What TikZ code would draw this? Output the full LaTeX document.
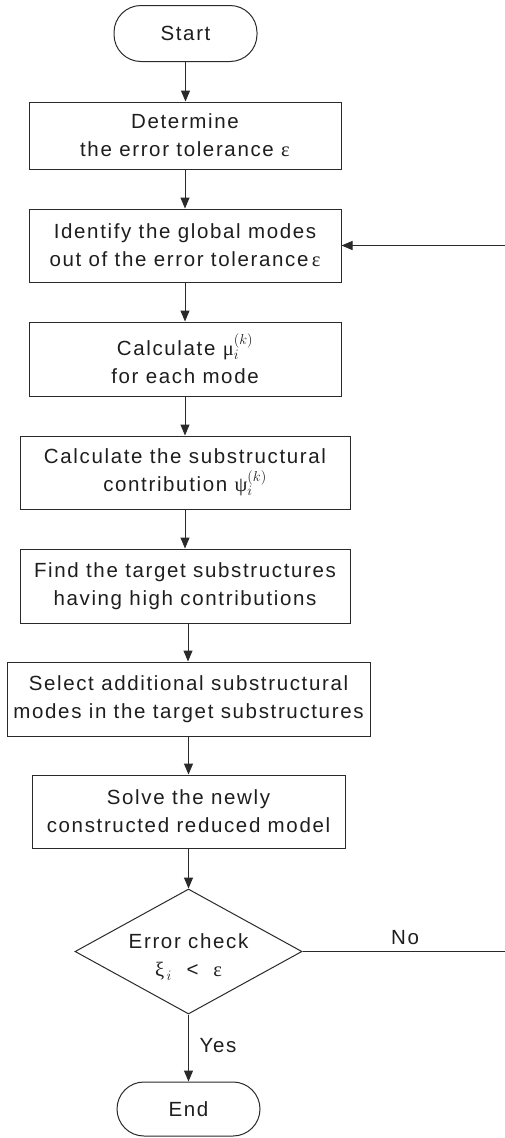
\documentclass[tikz,border=0pt]{standalone}
\usepackage{fontspec}
\setmainfont{Liberation Sans}[LetterSpace=8]
\newfontfamily\gkfont{Liberation Serif}
\usetikzlibrary{shapes.geometric,arrows.meta}
\newcommand\gk[1]{\mbox{\gkfont #1}}
\definecolor{linec}{HTML}{2A2A2A}
\definecolor{txt}{HTML}{1E1E1E}
\begin{document}
\begin{tikzpicture}[x=1pt,y=-1pt,
  lbl/.style={text=txt, align=center, inner sep=0pt, font=\fontsize{20.5}{28}\selectfont},
  box/.style={lbl, draw=linec, line width=1pt},
  term/.style={box, rounded corners=27pt, minimum width=143pt, minimum height=56pt},
  dia/.style={draw=linec, line width=1pt, shape=diamond, inner sep=0pt, minimum width=227pt, minimum height=125pt},
  conn/.style={draw=linec, line width=1pt},
  arr/.style={conn, -{Triangle[length=11pt,width=9pt]}}]
\fill[white] (0,0) rectangle (505,1138);
\useasboundingbox (0,0) rectangle (505,1138);

\node[term] (start) at (185.5,33.5) {Start};
\node[box, minimum width=312pt, minimum height=67pt] (b1) at (185,135.5) {Determine\\ the error tolerance \gk{ε}};
\node[box, minimum width=312pt, minimum height=73pt] (b2) at (185,245.5) {Identify the global modes\\out of the error tolerance\,\gk{ε}};
\node[box, minimum width=312pt, minimum height=74pt] (b3) at (185,359) {Calculate $\gk{μ}_i^{(k)}$\\for each mode};
\node[box, minimum width=330pt, minimum height=73pt] (b4) at (185,472.5) {Calculate the substructural\\contribution $\gk{ψ}_i^{(k)}$};
\node[box, minimum width=330pt, minimum height=74pt] (b5) at (185,586) {Find the target substructures\\having high contributions};
\node[box, minimum width=363pt, minimum height=74pt] (b6) at (188.5,699) {Select additional substructural\\modes in the target substructures};
\node[box, minimum width=313pt, minimum height=73pt] (b7) at (188.5,811.5) {Solve the newly\\constructed reduced model};
\node[dia] (chk) at (188.5,951.5) {};
\node[lbl] (chkt) at (188.5,957) {Error check\\$\gk{ξ}_{\,i}$\ \ <\ \ \gk{ε}};
\node[term, minimum height=54pt] (end) at (188.5,1109) {End};

\node[lbl] (no) at (405,938) {No};
\node[lbl] (yes) at (218,1046) {Yes};

\coordinate (nr) at (505,951.5);
\coordinate (ir) at (505,245.5);

\draw[arr] (start.south) -- (start.south |- b1.north);
\draw[arr] (b1.south) -- (b1.south |- b2.north);
\draw[arr] (b2.south) -- (b2.south |- b3.north);
\draw[arr] (b3.south) -- (b3.south |- b4.north);
\draw[arr] (b4.south) -- (b4.south |- b5.north);
\draw[arr] ([xshift=3pt]b5.south) -- ([xshift=3pt]b5.south |- b6.north);
\draw[arr] (b6.south) -- (b6.south |- b7.north);
\draw[arr] (b7.south) -- (chk.north);
\draw[arr] (chk.south) -- (end.north);
\draw[conn] (chk.east) -- (nr);
\draw[arr] (ir) -- (b2.east);
\end{tikzpicture}
\end{document}
